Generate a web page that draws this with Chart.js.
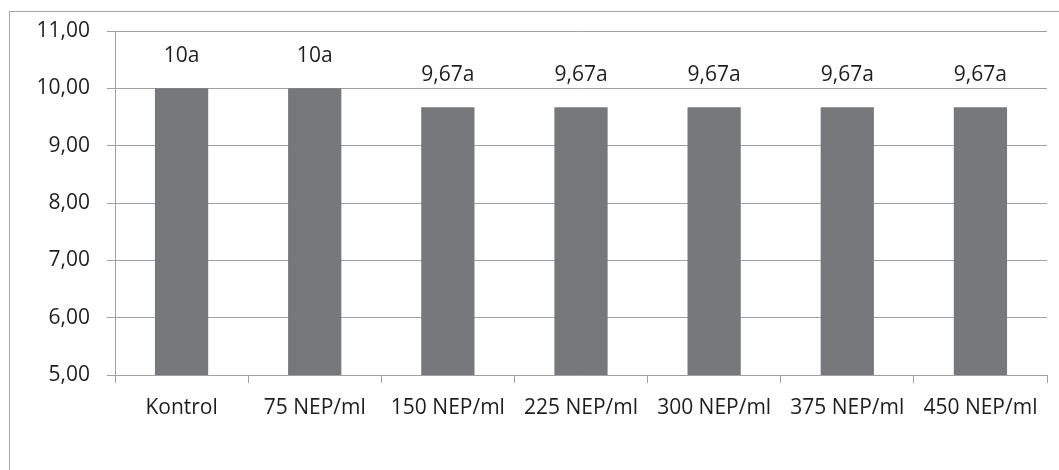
<!DOCTYPE html>
<html>
<head>
<meta charset="utf-8">
<script src="https://cdn.jsdelivr.net/npm/chart.js@4.4.1/dist/chart.umd.min.js"></script>
<style>
  html, body { margin: 0; padding: 0; background: #ffffff; }
  #wrap { position: relative; width: 1059px; height: 470px; overflow: hidden; }
  #frame { position: absolute; left: 9px; top: 11px; width: 1100px; height: 520px;
           border: 1px solid #a6a6a6; box-sizing: border-box; pointer-events: none; }
  canvas { position: absolute; left: 0; top: 0; }
</style>
</head>
<body>
<div id="wrap">
  <div id="frame"></div>
  <canvas id="chart" width="1059" height="470"></canvas>
</div>
<script>
// Treatment groups and mean values
const categories = ['Kontrol', '75 NEP/ml', '150 NEP/ml', '225 NEP/ml', '300 NEP/ml', '375 NEP/ml', '450 NEP/ml'];
const values = [10, 10, 9.67, 9.67, 9.67, 9.67, 9.67];
const valueLabels = ['10a', '10a', '9,67a', '9,67a', '9,67a', '9,67a', '9,67a'];
const yMin = 5;
const yMax = 11;

const FONT = { family: "'Open Sans', sans-serif", size: 21 };
const TEXT = '#1e1e1e';
const GRID = '#a0a0a0';

// Writes the significance label above each bar
const barLabels = {
  id: 'barLabels',
  afterDatasetsDraw(chart) {
    const ctx = chart.ctx;
    const meta = chart.getDatasetMeta(0);
    ctx.save();
    ctx.font = FONT.size + 'px ' + FONT.family;
    ctx.fillStyle = TEXT;
    ctx.textAlign = 'center';
    ctx.textBaseline = 'middle';
    meta.data.forEach((bar, i) => {
      ctx.fillText(valueLabels[i], bar.x, bar.y - 32);
    });
    ctx.restore();
  }
};

new Chart(document.getElementById('chart'), {
  type: 'bar',
  data: {
    labels: categories,
    datasets: [{
      data: values,
      backgroundColor: '#77787b',
      borderWidth: 0,
      barPercentage: 0.4,
      categoryPercentage: 1.0
    }]
  },
  options: {
    responsive: false,
    animation: false,
    devicePixelRatio: 1,
    layout: { padding: { left: 0, right: 12, top: 31, bottom: 0 } },
    plugins: { legend: { display: false }, tooltip: { enabled: false } },
    scales: {
      x: {
        afterFit(scale) { scale.height = 95; },
        grid: { offset: true, drawOnChartArea: false, drawTicks: true, tickLength: 8, color: GRID, lineWidth: 1 },
        border: { color: GRID, width: 1 },
        ticks: { font: FONT, color: TEXT, padding: 12, maxRotation: 0, autoSkip: false }
      },
      y: {
        min: yMin,
        max: yMax,
        afterFit(scale) { scale.width = 115; },
        grid: { color: GRID, lineWidth: 1, drawTicks: true, tickLength: 8 },
        border: { color: GRID, width: 1 },
        ticks: {
          stepSize: 1,
          font: FONT,
          color: TEXT,
          padding: 17,
          callback: v => v.toFixed(2).replace('.', ',')
        }
      }
    }
  },
  plugins: [barLabels]
});
</script>
</body>
</html>
